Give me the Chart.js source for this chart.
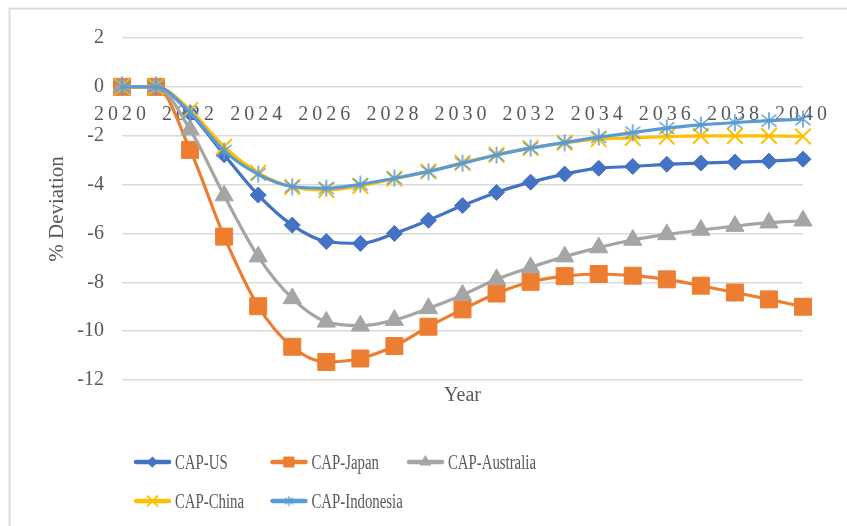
<!DOCTYPE html>
<html>
<head>
<meta charset="utf-8">
<script src="https://cdn.jsdelivr.net/npm/chart.js@4.4.0/dist/chart.umd.min.js"></script>
<style>
  html, body { margin: 0; padding: 0; background: #fff; }
  #wrap { position: relative; width: 847px; height: 526px; }
</style>
</head>
<body>
<div id="wrap"><canvas id="cap-chart"></canvas></div>
<script>
const years = [2020, 2021, 2022, 2023, 2024, 2025, 2026, 2027, 2028, 2029, 2030,
               2031, 2032, 2033, 2034, 2035, 2036, 2037, 2038, 2039, 2040];

const capUS        = [0, 0, -1.08, -2.78, -4.43, -5.66, -6.33, -6.41, -6.00, -5.46, -4.86,
                      -4.32, -3.90, -3.57, -3.33, -3.26, -3.17, -3.12, -3.08, -3.04, -2.96];
const capJapan     = [0, 0, -2.58, -6.13, -8.98, -10.64, -11.26, -11.12, -10.61, -9.82, -9.11,
                      -8.46, -7.98, -7.75, -7.66, -7.73, -7.88, -8.14, -8.42, -8.70, -9.00];
const capAustralia = [0, 0, -1.75, -4.45, -6.95, -8.66, -9.62, -9.78, -9.55, -9.07, -8.52,
                      -7.88, -7.39, -6.95, -6.58, -6.27, -6.04, -5.86, -5.70, -5.56, -5.48];
const capChina     = [0, 0, -0.95, -2.45, -3.52, -4.10, -4.22, -4.06, -3.76, -3.46, -3.11,
                      -2.78, -2.50, -2.29, -2.14, -2.09, -2.04, -2.01, -2.01, -2.01, -2.03];
const capIndonesia = [0, 0, -1.05, -2.62, -3.58, -4.08, -4.15, -3.99, -3.74, -3.47, -3.13,
                      -2.79, -2.51, -2.28, -2.06, -1.87, -1.69, -1.56, -1.46, -1.38, -1.32];

const yTicks = [2, 0, -2, -4, -6, -8, -10, -12];

const FONT = '"Liberation Serif", "Times New Roman", serif';
const TEXT_GREY = '#595959';

// six-armed asterisk (x plus vertical bar) used for the Indonesia series
function starMarker(size, color, lw) {
  const c = document.createElement('canvas');
  c.width = size; c.height = size;
  const g = c.getContext('2d');
  const m = size / 2, d = size / 2 - 1.5;
  g.strokeStyle = color;
  g.lineWidth = lw;
  g.beginPath();
  g.moveTo(m - d, m - d * 0.8); g.lineTo(m + d, m + d * 0.8);
  g.moveTo(m + d, m - d * 0.8); g.lineTo(m - d, m + d * 0.8);
  g.moveTo(m, 0.5); g.lineTo(m, size - 0.5);
  g.stroke();
  return c;
}

const starBig = starMarker(18, '#5B9BD5', 1.6);
const starSmall = starMarker(11, '#5B9BD5', 1.3);

function series(label, values, color, style, radius, order, legendRadius) {
  return {
    label: label,
    data: values,
    borderColor: color,
    backgroundColor: color,
    borderWidth: 3.2,
    pointStyle: style,
    pointRadius: radius,
    pointBorderWidth: style === 'crossRot' ? 2 : 1,
    pointBackgroundColor: color,
    pointBorderColor: color,
    cubicInterpolationMode: 'monotone',
    order: order,
    legendRadius: legendRadius
  };
}

// light grey frame around the chart
const frame = {
  id: 'frame',
  beforeDraw(chart) {
    const ctx = chart.ctx;
    ctx.save();
    ctx.fillStyle = '#fff';
    ctx.fillRect(0, 0, chart.width, chart.height);
    ctx.strokeStyle = '#d9d9d9';
    ctx.lineWidth = 1.8;
    ctx.strokeRect(9.5, 8.5, chart.width + 20, chart.height + 20);
    ctx.restore();
  }
};

// year labels sit just under the zero line, behind the series
const yearLabels = {
  id: 'yearLabels',
  beforeDatasetsDraw(chart) {
    const { ctx, scales: { x, y } } = chart;
    const base = y.getPixelForValue(0) + 33;
    ctx.save();
    ctx.font = '20px ' + FONT;
    ctx.fillStyle = TEXT_GREY;
    ctx.textAlign = 'center';
    ctx.textBaseline = 'alphabetic';
    ctx.letterSpacing = '4px';
    years.forEach((yr, i) => {
      if (i % 2) return;
      ctx.fillText(String(yr), x.getPixelForValue(i), base);
    });
    ctx.restore();
  }
};

// two-row legend with line + marker samples
const legendRows = {
  id: 'legendRows',
  afterDraw(chart) {
    const ctx = chart.ctx;
    chart.data.datasets.forEach((ds, i) => {
      const x0 = 134 + (i % 3) * 136.5;
      const y0 = 462 + Math.floor(i / 3) * 39;
      ctx.save();
      ctx.strokeStyle = ds.borderColor;
      ctx.fillStyle = ds.borderColor;
      ctx.lineWidth = 4.5;
      ctx.lineCap = 'round';
      ctx.beginPath();
      ctx.moveTo(x0 + 2, y0);
      ctx.lineTo(x0 + 35, y0);
      ctx.stroke();
      const mx = x0 + 18.5;
      if (ds.pointStyle instanceof HTMLCanvasElement) {
        ctx.drawImage(starSmall, mx - 5.5, y0 - 5.5);
      } else {
        ctx.lineWidth = ds.pointStyle === 'crossRot' ? 1.8 : 1;
        Chart.helpers.drawPoint(ctx, {
          pointStyle: ds.pointStyle,
          radius: ds.legendRadius,
          borderWidth: ds.pointStyle === 'crossRot' ? 1.8 : 1,
          rotation: 0
        }, mx, y0);
      }
      ctx.fillStyle = TEXT_GREY;
      ctx.font = '20px ' + FONT;
      ctx.textBaseline = 'alphabetic';
      ctx.translate(x0 + 41, y0 + 7.3);
      ctx.scale(0.74, 1);
      ctx.fillText(ds.label, 0, 0);
      ctx.restore();
    });
  }
};

new Chart(document.getElementById('cap-chart'), {
  type: 'line',
  data: {
    labels: years,
    datasets: [
      series('CAP-US', capUS, '#4472C4', 'rectRot', 8, 5, 5),
      series('CAP-Japan', capJapan, '#ED7D31', 'rect', 12, 4, 7),
      series('CAP-Australia', capAustralia, '#A5A5A5', 'triangle', 10.5, 3, 6),
      series('CAP-China', capChina, '#FFC000', 'crossRot', 11, 2, 7),
      series('CAP-Indonesia', capIndonesia, '#5B9BD5', starBig, 9, 1, 5)
    ]
  },
  options: {
    responsive: true,
    maintainAspectRatio: false,
    animation: false,
    layout: { padding: { left: 41, top: 38, right: 44, bottom: 114 } },
    plugins: {
      legend: { display: false },
      tooltip: { enabled: false }
    },
    scales: {
      x: {
        type: 'category',
        offset: false,
        grid: { display: false },
        border: { display: false },
        ticks: { display: false },
        title: {
          display: true,
          text: 'Year',
          color: TEXT_GREY,
          font: { family: FONT, size: 20 },
          padding: { top: 4, bottom: 4 }
        },
        afterFit(scale) { scale.height = 32; }
      },
      y: {
        min: -12,
        max: 2,
        afterBuildTicks(scale) { scale.ticks = yTicks.map(v => ({ value: v })); },
        grid: { color: '#d9d9d9', lineWidth: 1.5, drawTicks: false },
        border: { display: false },
        ticks: {
          color: TEXT_GREY,
          padding: 18,
          font: { family: FONT, size: 20 }
        },
        title: {
          display: true,
          text: '% Deviation',
          color: TEXT_GREY,
          font: { family: FONT, size: 21 },
          padding: { top: 4, bottom: 4 }
        },
        afterFit(scale) { scale.width = 81; }
      }
    }
  },
  plugins: [frame, yearLabels, legendRows]
});
</script>
</body>
</html>
